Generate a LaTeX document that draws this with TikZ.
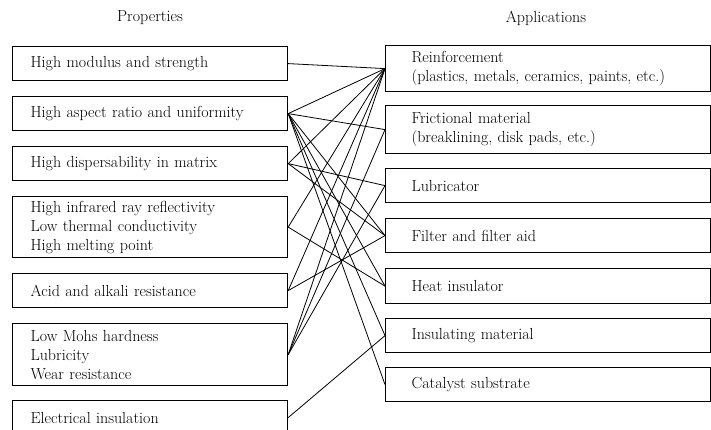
\documentclass[tikz,border=0pt]{standalone}
\usepackage{tikz}
\begin{document}
\begin{tikzpicture}[x=1pt, y=-1pt, font=\fontsize{16}{19}\selectfont,
    prop/.style={draw, line width=1.2pt, anchor=north west, minimum width=275pt,
      text width=239pt, inner xsep=18pt, inner ysep=3pt, align=left},
    appl/.style={draw, line width=1.2pt, anchor=north west, minimum width=325pt,
      text width=273pt, inner xsep=26pt, inner ysep=3pt, align=left},
    link/.style={line width=0.8pt}]
  \useasboundingbox (0,0) rectangle (711,429);
  % Column headings
  \node (hprop) at (150,18) {Properties};
  \node (happl) at (546,18) {Applications};
  % Properties (left column)
  \node[prop, minimum height=34pt] (p1) at (12,46)  {High modulus and strength};
  \node[prop, minimum height=34pt] (p2) at (12,96)  {High aspect ratio and uniformity};
  \node[prop, minimum height=34pt] (p3) at (12,146) {High dispersability in matrix};
  \node[prop, minimum height=61pt] (p4) at (12,196) {High infrared ray reflectivity\\Low thermal conductivity\\High melting point};
  \node[prop, minimum height=34pt] (p5) at (12,273) {Acid and alkali resistance};
  \node[prop, minimum height=62pt] (p6) at (12,323) {Low Mohs hardness\\Lubricity\\Wear resistance};
  \node[prop, minimum height=34pt] (p7) at (12,400) {Electrical insulation};
  % Applications (right column)
  \node[appl, minimum height=46pt] (a1) at (385,45)  {Reinforcement\\(plastics, metals, ceramics, paints, etc.)};
  \node[appl, minimum height=48pt] (a2) at (385,105) {Frictional material\\(breaklining, disk pads, etc.)};
  \node[appl, minimum height=34pt] (a3) at (385,168) {Lubricator};
  \node[appl, minimum height=34pt] (a4) at (385,218) {Filter and filter aid};
  \node[appl, minimum height=35pt] (a5) at (385,268) {Heat insulator};
  \node[appl, minimum height=34pt] (a6) at (385,318) {Insulating material};
  \node[appl, minimum height=34pt] (a7) at (385,367) {Catalyst substrate};
  % Property -> application links
  \foreach \p/\a in {p1/a1, p2/a1, p2/a2, p2/a4, p2/a5, p2/a6, p2/a7,
      p3/a1, p3/a3, p3/a4, p4/a1, p4/a5, p5/a1, p5/a4,
      p6/a1, p6/a2, p6/a3, p7/a6} {
    \draw[link] (\p.east) -- (\a.west);
  }
\end{tikzpicture}
\end{document}
